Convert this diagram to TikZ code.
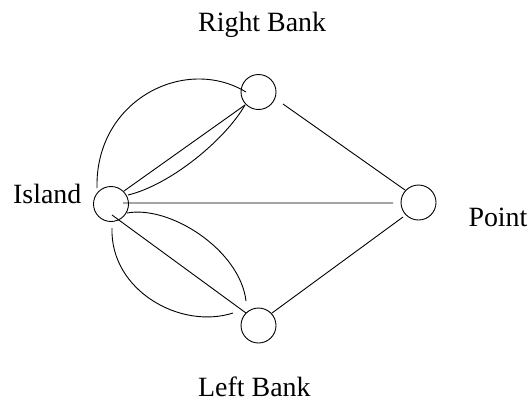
\documentclass[tikz,border=0pt]{standalone}
\usepackage{fontspec}
\setmainfont{Liberation Serif}
\begin{document}
\begin{tikzpicture}[x=1bp,y=-1bp,
  vertex/.style={draw,circle,minimum size=35bp,inner sep=0pt,line width=0.9bp},
  edge/.style={line width=0.9bp},
  lbl/.style={inner sep=0pt,anchor=base west,font=\fontsize{28}{32}\selectfont}]
\useasboundingbox (0,0) rectangle (530,404);
% vertices
\node[vertex] (I) at (111,204) {};
\node[vertex] (R) at (258.5,92) {};
\node[vertex] (L) at (258.5,325.5) {};
\node[vertex] (P) at (418.5,202.5) {};
% labels
\node[lbl] (tR) at (198,31.5) {Right Bank};
\node[lbl] (tL) at (198,396.5) {Left Bank};
\node[lbl] (tI) at (13,203.5) {Island};
\node[lbl] (tP) at (468.3,226) {Point};
% edges Island - Right Bank
\draw[edge] ([shift={(-14,-16)}]I.center) .. controls (95,100) and (185,55) .. ([shift={(-12.5,0)}]R.center);
\draw[edge] ([shift={(13,-13)}]I.center) -- ([shift={(-13.5,13)}]R.center);
\draw[edge] ([shift={(17,-9)}]I.center) .. controls (170,185) and (225,140) .. ([shift={(-13.5,13)}]R.center);
% Island - Point
\draw[edge] ([shift={(12,-1)}]I.center) -- ([shift={(-25.5,0.5)}]P.center);
% Island - Left Bank
\draw[edge] ([shift={(16,9)}]I.center) .. controls (170,205) and (240,250) .. ([shift={(-12.5,-24.5)}]L.center);
\draw[edge] ([shift={(1,11)}]I.center) -- ([shift={(-12.5,-12.5)}]L.center);
\draw[edge] ([shift={(1,24)}]I.center) .. controls (110,290) and (180,330) .. ([shift={(-25.5,-12.5)}]L.center);
% Banks - Point
\draw[edge] ([shift={(24.5,12)}]R.center) -- ([shift={(-13.5,-12.5)}]P.center);
\draw[edge] ([shift={(13.5,-12.5)}]L.center) -- ([shift={(-15.5,14.5)}]P.center);
\end{tikzpicture}
\end{document}
